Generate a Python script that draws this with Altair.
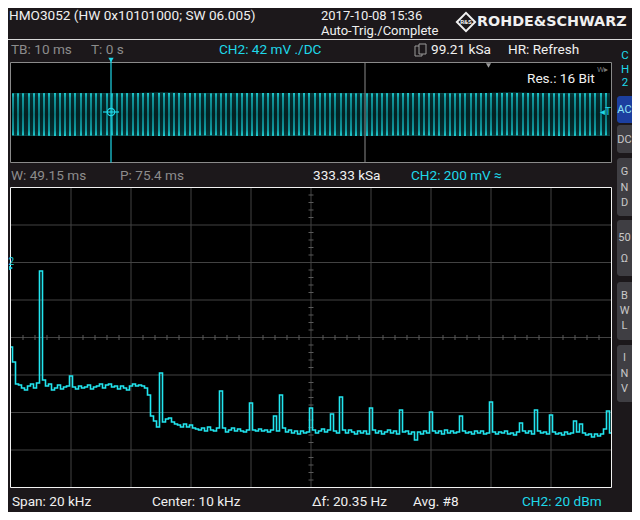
import altair as alt
import pandas as pd

# ---------------- values ----------------
# FFT trace (CH2, 20 dB/div): level in dBm every 100 Hz, 0 .. 20 kHz
freq_hz = list(range(0, 20001, 100))
level_dbm = [
    -85.1, -93.1, -104.8, -105.3, -106.9, -108.0, -105.9, -104.8, -106.9, -104.3,
    -44.5, -102.7, -105.9, -104.8, -108.0, -106.9, -105.3, -107.5, -106.4, -105.9,
    -100.5, -106.4, -107.5, -105.9, -106.9, -106.4, -105.3, -107.5, -106.4, -105.9,
    -104.8, -106.9, -105.3, -104.8, -106.4, -105.9, -107.5, -105.9, -106.9, -108.0,
    -105.9, -104.8, -105.9, -105.3, -105.9, -106.9, -110.7, -121.9, -124.5, -127.7,
    -98.9, -125.1, -123.5, -122.9, -125.1, -126.1, -126.7, -127.7, -126.1, -127.7,
    -126.7, -128.3, -128.8, -129.3, -128.3, -129.9, -127.7, -129.3, -129.9, -128.3,
    -108.5, -128.3, -130.4, -129.3, -128.3, -129.9, -128.8, -129.9, -130.4, -129.3,
    -114.9, -129.3, -129.9, -128.8, -129.9, -129.3, -130.4, -129.3, -121.9, -129.9,
    -110.7, -128.3, -130.4, -129.3, -130.9, -129.9, -131.5, -129.9, -130.9, -130.4,
    -117.6, -129.3, -130.9, -129.9, -128.8, -130.4, -129.3, -120.8, -129.9, -130.9,
    -111.7, -129.3, -130.9, -129.3, -130.4, -131.5, -129.9, -130.9, -129.9, -131.5,
    -117.6, -129.3, -130.9, -129.9, -131.5, -130.4, -129.3, -130.9, -129.9, -131.5,
    -118.7, -130.4, -129.9, -131.5, -130.4, -134.7, -130.4, -131.5, -129.9, -130.9,
    -119.7, -129.9, -130.9, -129.9, -131.5, -129.3, -130.9, -129.9, -130.9, -130.4,
    -121.9, -129.9, -130.9, -130.4, -131.5, -129.9, -130.9, -129.9, -131.5, -130.9,
    -114.4, -130.4, -131.5, -130.4, -130.9, -129.9, -131.5, -130.9, -132.0, -130.4,
    -125.6, -129.9, -130.9, -129.9, -131.5, -118.7, -129.9, -130.9, -130.4, -131.5,
    -121.3, -130.4, -131.5, -130.9, -132.0, -130.4, -131.5, -130.9, -124.5, -130.4,
    -126.1, -130.9, -132.0, -131.5, -133.1, -131.5, -132.5, -131.5, -128.8, -119.2,
    -130.9,
]

# Time-domain overview (CH2, 42 mV/div): envelope of the 1 kHz signal
time_ms = [-19.8, -10, 0, 10, 20, 30, 40, 50, 60, 70, 80, 90, 99.8]
env_max_mv = [66, 67, 66, 68, 66, 67, 67, 66, 67, 66, 68, 66, 67]
env_min_mv = [-76, -77, -76, -77, -76, -77, -76, -77, -76, -77, -76, -77, -76]
zoom_marker_ms = [50.8]
trigger_ms = [0]
cycles_on_screen = 115     # periods of the 1 kHz signal visible in the overview

# graticule of the spectrum
major_freq_hz = [2000, 4000, 6000, 8000, 10000, 12000, 14000, 16000, 18000]
major_level_dbm = [-140, -120, -100, -80, -60, -40, -20]
minor_freq_hz = [f for f in range(400, 20000, 400) if f % 2000]
minor_level_dbm = [v for v in range(-156, 0, 4) if v % 20]

# ---------------- styling ----------------
OX, OY = 8, 8          # page margin
BG = "#1c181b"
WHITE = "#f0f0f0"
GRAYTXT = "#8c8c8c"
CYAN = "#1fd8ea"
TRACE = "#22e6f0"
GRID = "#424242"
FONT = "Roboto"
FS = 13.6


def px(x):
    return x - OX


def py(y):
    return y - OY


one = pd.DataFrame({"k": [0]})

X_SPEC = alt.Scale(domain=[0, 20000], range=[px(11), px(611)], nice=False, zero=False)
Y_SPEC = alt.Scale(domain=[-160, 0], range=[py(487.5), py(187.5)], nice=False, zero=False)
X_TIME = alt.Scale(domain=[-20, 100], range=[px(11), px(611)], nice=False, zero=False)
Y_TIME = alt.Scale(domain=[-168, 168], range=[py(163), py(63)], nice=False, zero=False)


def label(text, x, y, color=WHITE, size=FS, align="left", weight="normal", font=FONT):
    return alt.Chart(one).mark_text(
        text=text, align=align, baseline="middle", font=font,
        fontSize=size, fontWeight=weight, color=color,
    ).encode(x=alt.value(px(x)), y=alt.value(py(y)))


def box(x1, y1, x2, y2, fill=None, stroke=None, sw=1, r=0):
    kw = dict(cornerRadius=r)
    if fill is not None:
        kw["fill"] = fill
    else:
        kw["fillOpacity"] = 0
    if stroke is not None:
        kw["stroke"] = stroke
        kw["strokeWidth"] = sw
    return alt.Chart(one).mark_rect(**kw).encode(
        x=alt.value(px(x1)), x2=alt.value(px(x2)),
        y=alt.value(py(y1)), y2=alt.value(py(y2)),
    )


def hline(x1, x2, y, color, sw=1):
    return alt.Chart(one).mark_rule(color=color, strokeWidth=sw).encode(
        x=alt.value(px(x1)), x2=alt.value(px(x2)), y=alt.value(py(y))
    )


layers = []

# ---------- header ----------
layers += [
    label("HMO3052 (HW 0x10101000; SW 06.005)", 9, 16),
    label("2017-10-08 15:36", 321, 15.5, size=13),
    label("Auto-Trig./Complete", 321, 31, size=13),
    alt.Chart(one).mark_point(shape="diamond", filled=False, size=330,
                              stroke=WHITE, strokeWidth=2, opacity=1)
    .encode(x=alt.value(px(466)), y=alt.value(py(22))),
    label("R&S", 466, 22, size=6, align="center", weight="bold"),
    label("ROHDE&SCHWARZ", 477, 21.5, size=14.3, weight="bold", font="DejaVu Sans"),
    hline(0, 640, 39.5, "#d8d8d8"),
    label("TB: 10 ms", 11, 50, color=GRAYTXT),
    label("T: 0 s", 91, 50, color=GRAYTXT),
    label("CH2: 42 mV ./DC", 219, 50, color=CYAN),
    box(415, 46, 422, 56, fill="#1c181b", stroke="#9a9a9a"),
    box(419, 44, 426, 54, fill="#1c181b", stroke="#9a9a9a"),
    label("99.21 kSa", 431, 50),
    label("HR: Refresh", 508, 50),
    label("C", 625, 56, color=CYAN, size=11.5, align="center"),
    label("H", 625, 69.5, color=CYAN, size=11.5, align="center"),
    label("2", 625, 83, color=CYAN, size=11.5, align="center"),
]

# ---------- side buttons ----------
buttons = [
    (96, 123, ["AC"], [110], "#1c3f9f", "#8fe6f6"),
    (125, 153, ["DC"], [139.5], "#3f3e43", "#c8c8c8"),
    (158, 216, ["G", "N", "D"], [172, 187.5, 202.5], "#3f3e43", "#c8c8c8"),
    (220, 276, ["50", "Ω"], [238, 258.5], "#3f3e43", "#c8c8c8"),
    (282, 340, ["B", "W", "L"], [295.5, 311, 326], "#3f3e43", "#c8c8c8"),
    (345, 402, ["I", "N", "V"], [358, 373.5, 389], "#3f3e43", "#c8c8c8"),
]
for y1, y2, letters, ys, fill, tcol in buttons:
    layers.append(box(617, y1, 650, y2, fill=fill, r=3))
    for t, yy in zip(letters, ys):
        layers.append(label(t, 624.5, yy, color=tcol, size=11, align="center"))

# ---------- time-domain overview ----------
df_env = pd.DataFrame({"t": time_ms, "vmax": env_max_mv, "vmin": env_min_mv})
band_fill = alt.Gradient(
    gradient="linear", x1=0, x2=0, y1=0, y2=1,
    stops=[
        alt.GradientStop(color="#20d0d4", offset=0.0),
        alt.GradientStop(color="#109aa0", offset=0.12),
        alt.GradientStop(color="#0b777c", offset=0.5),
        alt.GradientStop(color="#109aa0", offset=0.86),
        alt.GradientStop(color="#20d0d4", offset=1.0),
    ],
)
stripe_stops = []
for i in range(cycles_on_screen):
    a = i / cycles_on_screen
    b = (i + 0.38) / cycles_on_screen
    c = (i + 1) / cycles_on_screen
    stripe_stops += [
        alt.GradientStop(color="rgba(0,0,0,0)", offset=a),
        alt.GradientStop(color="rgba(0,0,0,0)", offset=b),
        alt.GradientStop(color="rgba(0,0,0,0.72)", offset=b),
        alt.GradientStop(color="rgba(0,0,0,0.72)", offset=c),
    ]
stripe_fill = alt.Gradient(gradient="linear", x1=0, x2=1, y1=0, y2=0, stops=stripe_stops)

layers += [
    box(10.5, 62.5, 611.5, 162.5, fill="#000000", stroke="#8a8a8a"),
    alt.Chart(df_env).mark_area(color=band_fill).encode(
        x=alt.X("t:Q", scale=X_TIME, axis=None),
        y=alt.Y("vmax:Q", scale=Y_TIME, axis=None),
        y2="vmin:Q",
    ),
    alt.Chart(df_env).mark_area(color=stripe_fill).encode(
        x=alt.X("t:Q", scale=X_TIME, axis=None),
        y=alt.Y("vmax:Q", scale=Y_TIME, axis=None),
        y2="vmin:Q",
    ),
    alt.Chart(pd.DataFrame({"t": zoom_marker_ms})).mark_rule(color="#8a8a8a").encode(
        x=alt.X("t:Q", scale=X_TIME, axis=None),
        y=alt.value(py(62.5)), y2=alt.value(py(162.5)),
    ),
    alt.Chart(pd.DataFrame({"t": trigger_ms})).mark_rule(color=CYAN, strokeWidth=1.2).encode(
        x=alt.X("t:Q", scale=X_TIME, axis=None),
        y=alt.value(py(58)), y2=alt.value(py(162.5)),
    ),
    alt.Chart(pd.DataFrame({"t": trigger_ms})).mark_point(
        shape="triangle-down", filled=True, size=28, color=CYAN, opacity=1).encode(
        x=alt.X("t:Q", scale=X_TIME, axis=None), y=alt.value(py(60))),
    alt.Chart(pd.DataFrame({"t": trigger_ms})).mark_point(
        shape="circle", filled=False, size=55, stroke=CYAN, strokeWidth=1.2, opacity=1).encode(
        x=alt.X("t:Q", scale=X_TIME, axis=None), y=alt.value(py(112))),
    hline(103, 119, 112, CYAN, 1.2),
    alt.Chart(one).mark_point(shape="triangle-down", filled=True, size=26,
                              color="#9a9a9a", opacity=1)
    .encode(x=alt.value(px(488.5)), y=alt.value(py(65.5))),
    label("W▸", 597, 70, color="#7a7a7a", size=8),
    label("Res.: 16 Bit", 527, 79),
    label("◂T", 600, 112, color=CYAN, size=10),
]

# ---------- status line ----------
layers += [
    label("W: 49.15 ms", 11, 176, color=GRAYTXT),
    label("P: 75.4 ms", 120, 176, color=GRAYTXT),
    label("333.33 kSa", 313, 176),
    label("CH2: 200 mV ≈", 411, 176, color=CYAN),
]

# ---------- spectrum panel ----------
df_trace = pd.DataFrame({"f": freq_hz, "db": level_dbm})
layers += [
    box(10.5, 187.5, 611.5, 487.5, fill="#000000"),
    alt.Chart(pd.DataFrame({"f": major_freq_hz})).mark_rule(color=GRID).encode(
        x=alt.X("f:Q", scale=X_SPEC, axis=None),
        y=alt.value(py(187.5)), y2=alt.value(py(487.5)),
    ),
    alt.Chart(pd.DataFrame({"db": major_level_dbm})).mark_rule(color=GRID).encode(
        y=alt.Y("db:Q", scale=Y_SPEC, axis=None),
        x=alt.value(px(10.5)), x2=alt.value(px(611.5)),
    ),
    alt.Chart(pd.DataFrame({"f": minor_freq_hz})).mark_rule(color="#5a5a5a").encode(
        x=alt.X("f:Q", scale=X_SPEC, axis=None),
        y=alt.value(py(335)), y2=alt.value(py(340)),
    ),
    alt.Chart(pd.DataFrame({"db": minor_level_dbm})).mark_rule(color="#5a5a5a").encode(
        y=alt.Y("db:Q", scale=Y_SPEC, axis=None),
        x=alt.value(px(308.5)), x2=alt.value(px(313.5)),
    ),
    alt.Chart(df_trace).mark_line(color=TRACE, strokeWidth=1.6, interpolate="step").encode(
        x=alt.X("f:Q", scale=X_SPEC, axis=None),
        y=alt.Y("db:Q", scale=Y_SPEC, axis=None),
    ),
    box(10.5, 187.5, 611.5, 487.5, stroke="#f2f2f2"),
    label("2", 8.5, 262, color=CYAN, size=10),
    alt.Chart(one).mark_point(shape="triangle-right", filled=True, size=20,
                              color=CYAN, opacity=1)
    .encode(x=alt.value(px(11)), y=alt.value(py(268))),
]

# ---------- bottom line ----------
layers += [
    label("Span: 20 kHz", 12, 502),
    label("Center: 10 kHz", 152, 502),
    label("Δf: 20.35 Hz", 312, 502),
    label("Avg. #8", 413, 502),
    label("CH2: 20 dBm", 522, 502, color=CYAN),
]

chart = (
    alt.layer(*layers)
    .resolve_scale(x="independent", y="independent")
    .properties(width=624, height=504, padding=0,
                autosize=alt.AutoSizeParams(type="none"))
    .configure(background=BG)
    .configure_view(strokeWidth=0)
)

chart.save("out.html", embed_options={"renderer": "svg", "actions": False})
